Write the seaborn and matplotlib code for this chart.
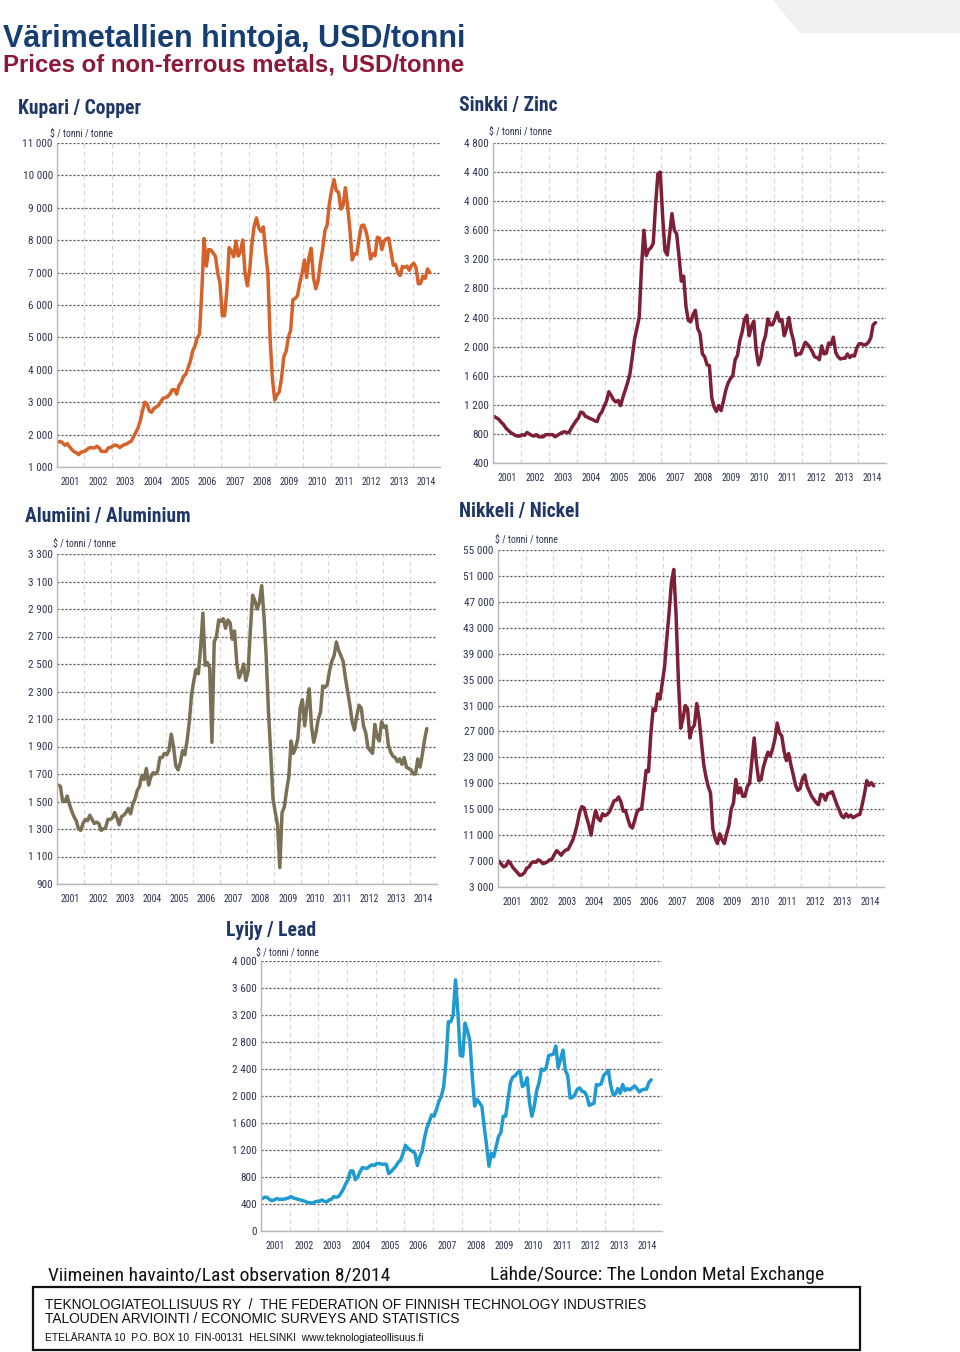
import numpy as np
import pandas as pd
import matplotlib
matplotlib.use("Agg")
import matplotlib.pyplot as plt
from matplotlib import font_manager as fm
from matplotlib.ticker import FuncFormatter, FixedLocator
from matplotlib.patches import Polygon, Rectangle
import seaborn as sns

# ---------------- data (monthly averages, Jan 2001 - Aug 2014, USD/tonne) ----------------
copper = [
    1770, 1790, 1740, 1670, 1720, 1620, 1540, 1470, 1440, 1380, 1460, 1470,
    1500, 1560, 1600, 1590, 1590, 1640, 1590, 1480, 1480, 1480, 1590, 1600,
    1650, 1680, 1660, 1600, 1650, 1690, 1710, 1760, 1790, 1920, 2060, 2200,
    2420, 2740, 3000, 2950, 2730, 2690, 2810, 2850, 2900, 3010, 3120, 3140,
    3170, 3250, 3380, 3390, 3250, 3520, 3610, 3800, 3860, 4060, 4270, 4580,
    4730, 4980, 5100, 6390, 8050, 7200, 7710, 7700, 7600, 7500, 6990, 6670,
    5670, 5670, 6450, 7770, 7660, 7490, 7970, 7510, 7650, 8010, 6960, 6590,
    7060, 7890, 8440, 8690, 8380, 8270, 8410, 7630, 6990, 4930, 3720, 3070,
    3220, 3320, 3750, 4410, 4570, 5010, 5220, 6170, 6200, 6290, 6680, 6980,
    7390, 6850, 7460, 7750, 6840, 6500, 6740, 7280, 7710, 8290, 8470, 9150,
    9560, 9870, 9530, 9480, 8960, 9070, 9620, 9040, 8310, 7390, 7580, 7570,
    8040, 8440, 8470, 8290, 7960, 7420, 7580, 7520, 8090, 8060, 7710, 7970,
    8050, 8060, 7650, 7230, 7250, 7000, 6910, 7190, 7160, 7200, 7070, 7220,
    7290, 7150, 6650, 6670, 6890, 6820, 7110, 7000,
]
zinc = [
    1040, 1020, 1000, 960, 930, 880, 850, 820, 800, 780, 770, 770,
    790, 780, 820, 800, 780, 770, 790, 760, 760, 760, 790, 790,
    790, 790, 760, 780, 800, 820, 830, 820, 820, 880, 930, 980,
    1020, 1100, 1090, 1040, 1030, 1010, 1000, 980, 970, 1060, 1100, 1180,
    1250, 1380, 1330, 1270, 1240, 1260, 1190, 1300, 1400, 1500, 1620, 1850,
    2100, 2250, 2400, 3100, 3600, 3250, 3330, 3360, 3420, 3950, 4380, 4400,
    3800, 3320, 3260, 3550, 3830, 3600, 3550, 3250, 2900, 2970, 2550, 2360,
    2340, 2440, 2500, 2250, 2180, 1900, 1860, 1750, 1740, 1300, 1170, 1110,
    1190, 1120, 1250, 1400, 1500, 1560, 1600, 1820, 1880, 2080, 2200, 2370,
    2430, 2150, 2280, 2350, 1950, 1750, 1850, 2050, 2150, 2380, 2300, 2300,
    2380, 2470, 2350, 2370, 2150, 2250, 2400, 2200, 2080, 1880, 1900, 1900,
    1980, 2060, 2030, 1990, 1930, 1860, 1850, 1820, 2010, 1900, 1910, 2050,
    2030, 2130, 1920, 1860, 1830, 1840, 1840, 1900, 1850, 1880, 1870, 1980,
    2040, 2040, 2020, 2030, 2060, 2120, 2300, 2330,
]
aluminium = [
    1620, 1610, 1500, 1500, 1540, 1480, 1430, 1390, 1360, 1300, 1290, 1340,
    1370, 1360, 1400, 1370, 1340, 1350, 1340, 1290, 1300, 1310, 1370, 1370,
    1380, 1420, 1380, 1330, 1390, 1400, 1420, 1450, 1410, 1480, 1520, 1580,
    1610, 1690, 1660, 1740, 1620, 1680, 1710, 1700, 1720, 1820, 1820, 1850,
    1840, 1870, 1990, 1900, 1760, 1730, 1780, 1870, 1840, 1940, 2080, 2280,
    2380, 2460, 2430, 2620, 2870, 2490, 2510, 2470, 1930, 2660, 2700, 2820,
    2810, 2830, 2760, 2820, 2800, 2680, 2740, 2500, 2400, 2440, 2500, 2380,
    2450, 2750, 3000, 2960, 2900, 2950, 3070, 2850, 2550, 2150, 1850, 1520,
    1420, 1330, 1020, 1420, 1460, 1580, 1680, 1940, 1850, 1890, 1960, 2180,
    2240, 2050, 2200, 2320, 2050, 1930, 2000, 2100, 2150, 2340, 2330, 2350,
    2450, 2520, 2560, 2660, 2600, 2560, 2520, 2400, 2300, 2200, 2080, 2020,
    2120, 2200, 2180, 2050, 2000, 1890, 1870, 1850, 2060, 1970, 1940, 2080,
    2040, 2050, 1910, 1860, 1830, 1820, 1790, 1810, 1770, 1820, 1750, 1740,
    1730, 1700, 1700, 1810, 1750, 1840, 1950, 2030,
]
nickel = [
    7000, 6500, 6100, 6300, 7000, 6600, 6000, 5600, 5200, 4800, 4900, 5200,
    5900, 6100, 6700, 6900, 6800, 7200, 7000, 6600, 6700, 6900, 7200, 7300,
    8000, 8600, 8300, 7900, 8400, 8700, 8800, 9500, 10200, 11300, 12700, 14500,
    15400, 15200, 13800, 12600, 11000, 13200, 14800, 13600, 13200, 14300, 14000, 14200,
    14600, 15400, 16300, 16400, 16900, 16100, 14700, 14800, 13500, 12400, 12100, 13300,
    14600, 15000, 15000, 18000, 21000, 20800, 26500, 30500, 30200, 32800, 32000, 34500,
    37000, 41500, 45500, 50000, 52000, 45000, 35000, 27500, 29000, 31000, 30500, 26000,
    27500, 28000, 31300, 29000, 25500, 22000, 20000, 18500, 17500, 12000, 10500, 9700,
    11200, 10300, 9700, 11200, 12500, 15000, 16000, 19600, 17500, 18300, 17000, 17000,
    18500, 19000, 22500, 26000, 22000, 19400, 19600, 21500, 22700, 23800, 23200, 24300,
    25800, 28300, 26800, 26300, 24000, 22500, 23600, 21800, 20300, 18700, 17900, 18200,
    19700, 20300, 18600, 17800, 17000, 16500, 16000, 15700, 17300, 17200, 16400, 17400,
    17500, 17700, 16700, 15700, 14900, 14000, 13700, 14300, 13800, 14100, 13700, 13900,
    14100, 14200, 15700, 17400, 19400, 18700, 19100, 18600,
]
lead = [
    480, 500, 500, 470, 450, 460, 480, 470, 470, 470, 480, 490,
    510, 490, 480, 470, 460, 450, 440, 420, 420, 410, 430, 440,
    440, 460, 440, 430, 460, 470, 510, 500, 510, 560, 620, 700,
    760, 890, 890, 760, 800, 880, 940, 930, 930, 960, 980, 970,
    1000, 1000, 990, 990, 990, 850, 880, 920, 960, 1020, 1050, 1150,
    1270, 1230, 1200, 1180, 1150, 970, 1100, 1180, 1380, 1530, 1620, 1720,
    1700, 1800, 1920, 1990, 2130, 2500, 3100, 3100, 3200, 3720, 3230, 2600,
    2590, 3080, 2960, 2820, 2300, 1850, 1950, 1900, 1850, 1550, 1270, 960,
    1150, 1100, 1250, 1400, 1460, 1700, 1700, 1950, 2200, 2280, 2300, 2350,
    2370, 2140, 2170, 2270, 1900, 1700, 1850, 2080, 2200, 2400, 2380, 2420,
    2600, 2610, 2620, 2740, 2420, 2540, 2680, 2380, 2300, 1970, 1980, 2020,
    2100, 2120, 2070, 2060, 2000, 1860, 1880, 1890, 2170, 2160, 2180, 2300,
    2340, 2380, 2160, 2020, 2030, 2110, 2040, 2170, 2080, 2110, 2090, 2120,
    2150, 2110, 2060, 2090, 2100, 2100, 2200, 2240,
]
years = list(range(2001, 2015))
year_labels = [str(y) for y in years]

titles = {
    "copper": "Kupari / Copper",
    "zinc": "Sinkki / Zinc",
    "aluminium": "Alumiini / Aluminium",
    "nickel": "Nikkeli / Nickel",
    "lead": "Lyijy / Lead",
}
unit_label = "$ / tonni / tonne"
main_title = "Värimetallien hintoja, USD/tonni"
sub_title = "Prices of non-ferrous metals, USD/tonne"
footer_left = "Viimeinen havainto/Last observation 8/2014"
footer_right = "Lähde/Source: The London Metal Exchange"
box_lines = [
    "TEKNOLOGIATEOLLISUUS RY  /  THE FEDERATION OF FINNISH TECHNOLOGY INDUSTRIES",
    "TALOUDEN ARVIOINTI / ECONOMIC SURVEYS AND STATISTICS",
    "ETELÄRANTA 10  P.O. BOX 10  FIN-00131  HELSINKI  www.teknologiateollisuus.fi",
]

# ---------------- style ----------------
sns.set_theme(style="white")
plt.rcParams["font.family"] = ["Liberation Sans", "DejaVu Sans"]
REG = ["Liberation Sans", "DejaVu Sans"]

# pick a condensed face if one is installed, otherwise shrink the regular one
_names = {f.name for f in fm.fontManager.ttflist}
COND = None
for cand in ["Liberation Sans Narrow", "Arial Narrow", "Roboto Condensed", "Open Sans Condensed",
             "Noto Sans Condensed", "DejaVu Sans Condensed"]:
    if cand in _names:
        COND = cand
        break
if COND is None:
    extra = sorted(n for n in _names if ("Condensed" in n or "Narrow" in n) and "Semi" not in n
                   and "Extra" not in n and "Ultra" not in n and "Mono" not in n and "Serif" not in n)
    if extra:
        COND = extra[0]
if COND is not None:
    NARROW = [COND, "Liberation Sans", "DejaVu Sans"]
    SC = 1.0
else:
    NARROW = ["Liberation Sans", "DejaVu Sans"]
    SC = 0.8

NAVY = "#1f3766"
TICK_C = "#2b3550"

W, H = 960, 1352
fig = plt.figure(figsize=(W / 100, H / 100), dpi=100)
fig.patch.set_facecolor("white")

# decorative light band top-right
fig.patches.append(Polygon([(773 / W, 1.0), (800 / W, 1 - 33 / H), (960 / W, 1 - 33 / H), (960 / W, 1.0)],
                           closed=True, transform=fig.transFigure, facecolor="#f0f0f3", edgecolor="none"))

def px(x, y):
    return x / W, 1 - y / H

def fmt(v, pos=None):
    return f"{int(round(v)):,}".replace(",", " ")

panels = [
    # key, values, color, ymin, ymax, step, (l, t, r, b), title xy, unit xy
    ("copper", copper, "#d4622a", 1000, 11000, 1000, (57, 143, 440, 467), (18, 108), (50, 134)),
    ("zinc", zinc, "#7d1f35", 400, 4800, 400, (493, 143, 886, 463), (459, 105), (489, 132)),
    ("aluminium", aluminium, "#7a7056", 900, 3300, 200, (57, 554, 437, 884), (25, 516), (53, 544)),
    ("nickel", nickel, "#7d1f35", 3000, 55000, 4000, (498, 550, 884, 887), (459, 511), (495, 540)),
    ("lead", lead, "#1f9bd1", 0, 4000, 400, (261, 961, 662, 1231), (226, 931), (256, 953)),
]

for key, vals, color, y0, y1, step, (l, t, r, b), txy, uxy in panels:
    ax = fig.add_axes([l / W, 1 - b / H, (r - l) / W, (b - t) / H])
    n = len(vals)
    tpos = 2001 + (np.arange(n) + 0.5) / 12.0
    df = pd.DataFrame({"t": tpos, "v": vals})
    sns.lineplot(data=df, x="t", y="v", ax=ax, color=color, lw=2.5, solid_joinstyle="round")
    ax.set_xlim(2001, 2015)
    ax.set_ylim(y0, y1)
    ax.set_xlabel("")
    ax.set_ylabel("")
    ax.set_facecolor("none")
    # ticks
    ax.xaxis.set_major_locator(FixedLocator(list(range(2001, 2016))))
    ax.xaxis.set_minor_locator(FixedLocator([y + 0.5 for y in years]))
    ax.set_xticklabels([], minor=False)
    ax.set_xticklabels(year_labels, minor=True)
    ax.tick_params(axis="x", which="major", direction="in", length=4, color="#b0b0b0", width=0.8)
    ax.tick_params(axis="x", which="minor", length=0, pad=7, labelsize=7.1 * SC, labelcolor=TICK_C)
    for lab in ax.get_xticklabels(minor=True):
        lab.set_family(NARROW)
    ax.yaxis.set_major_locator(FixedLocator(list(np.arange(y0, y1 + 1, step))))
    ax.yaxis.set_major_formatter(FuncFormatter(fmt))
    ax.tick_params(axis="y", length=0, pad=3, labelsize=8.1 * SC, labelcolor=TICK_C)
    for lab in ax.get_yticklabels():
        lab.set_family(NARROW)
    # grids
    ax.yaxis.grid(True, linestyle=(0, (1.6, 1.6)), color="#4a4a4a", lw=0.9)
    ax.xaxis.grid(True, which="major", linestyle=(0, (4, 3)), color="#d6d6d6", lw=0.8)
    ax.set_axisbelow(True)
    for s in ("top", "right"):
        ax.spines[s].set_visible(False)
    for s in ("left", "bottom"):
        ax.spines[s].set_color("#b8b8b8")
        ax.spines[s].set_linewidth(1.0)
    # titles
    fig.text(*px(*txy), titles[key], family=NARROW, weight="bold", fontsize=14.1 * SC,
             color=NAVY, ha="left", va="center")
    fig.text(*px(*uxy), unit_label, family=NARROW, fontsize=7.1 * SC, color=TICK_C,
             ha="left", va="center")

# main titles
fig.text(*px(3, 39), main_title, weight="bold", fontsize=22, color="#173e73", ha="left", va="center")
fig.text(*px(3, 65), sub_title, weight="bold", fontsize=17.3, color="#8d1838", ha="left", va="center")

# footer
ffs = 14.0 if SC == 1.0 else 12.4
fig.text(*px(48, 1275), footer_left, family=NARROW, fontsize=ffs, color="#111111", ha="left", va="center")
fig.text(*px(490, 1275), footer_right, family=NARROW, fontsize=ffs, color="#111111", ha="left", va="center")
fig.patches.append(Rectangle(px(33, 1350), (860 - 33) / W, (1350 - 1287) / H, transform=fig.transFigure,
                             facecolor="none", edgecolor="#111111", lw=1.6))
fig.text(*px(45, 1305), box_lines[0], family=REG, fontsize=9.9, color="#111111", ha="left", va="center")
fig.text(*px(45, 1319), box_lines[1], family=REG, fontsize=9.9, color="#111111", ha="left", va="center")
fig.text(*px(45, 1338), box_lines[2], family=REG, fontsize=7.4, color="#111111", ha="left", va="center")

fig.savefig("out.png", dpi=100, facecolor="white")
